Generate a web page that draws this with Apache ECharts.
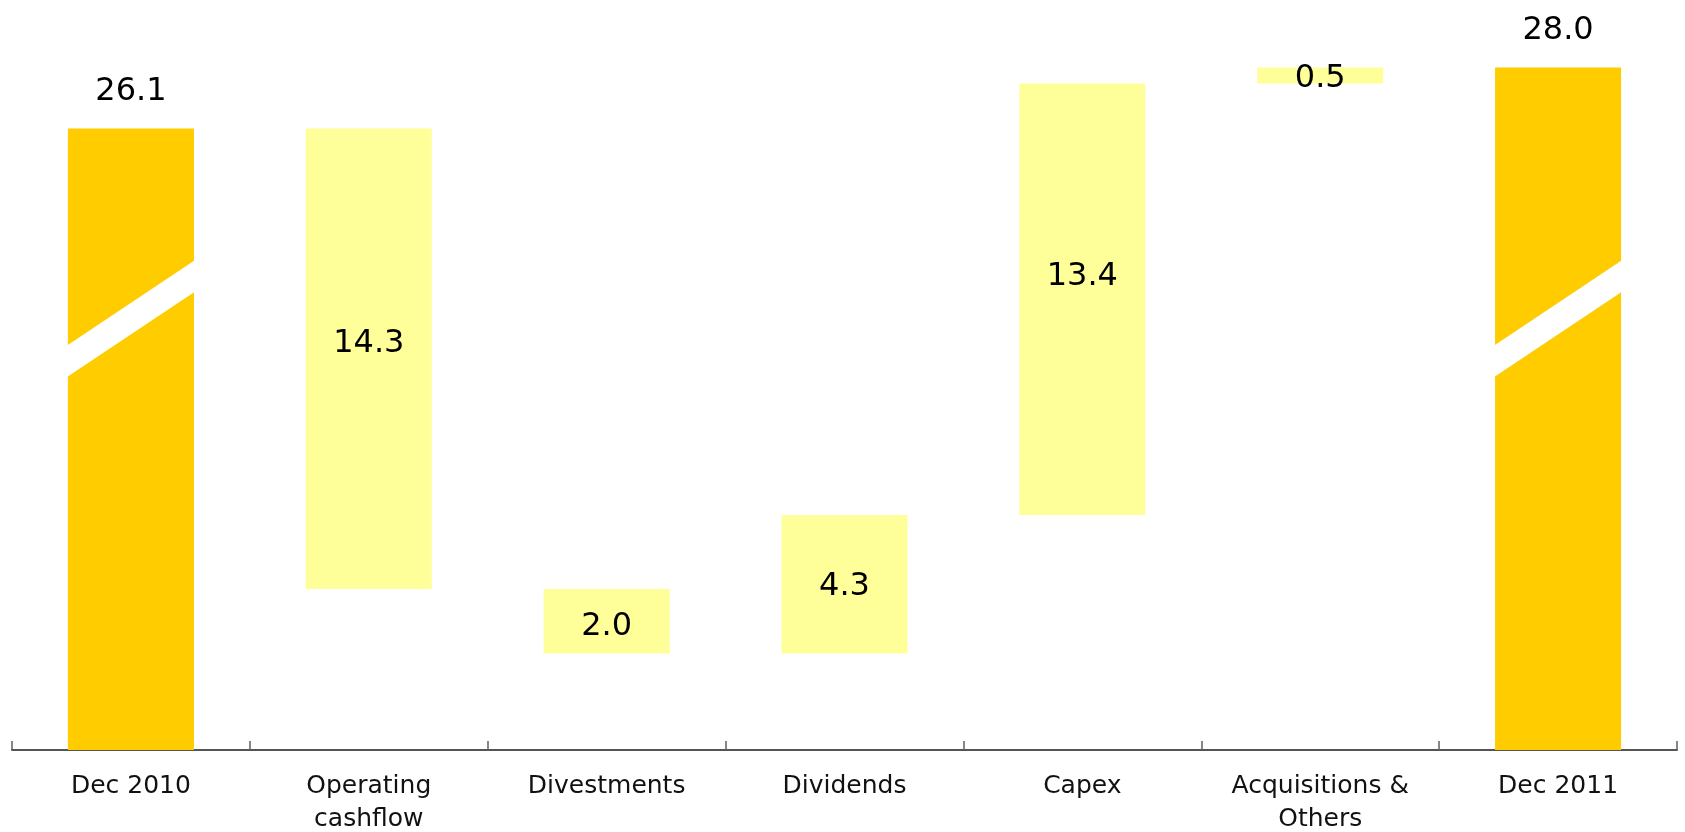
<!DOCTYPE html>
<html>
<head>
<meta charset="utf-8">
<title>Net debt bridge 2010–2011</title>
<script src="https://cdn.jsdelivr.net/npm/echarts@6/dist/echarts.min.js"></script>
<style>
  html, body { margin: 0; padding: 0; background: #ffffff; }
  #chart { width: 1685px; height: 832px; }
</style>
</head>
<body>
<div id="chart"></div>
<script>
// Net debt movement between year ends ($ billion)
const categories = ['Dec 2010', 'Operating\ncashflow', 'Divestments', 'Dividends', 'Capex', 'Acquisitions &\nOthers', 'Dec 2011'];
const openingTotal = 26.1;
const closingTotal = 28.0;
// signed movements from the opening to the closing total
const movements = [-14.3, -2.0, 4.3, 13.4, 0.5];
// value at which the axis-break stripe cuts across the two total bars
const breakLevel = 20.2;

// ---- styling ----
const TOTAL_COLOR = '#FFCC00';
const STEP_COLOR = '#FFFF99';
const FONT = '"DejaVu Sans", Verdana, sans-serif';
// small vertical nudges (px) for the labels inside the floating bars
const stepLabelShift = [-15, 5, 3, -23, 3];

// Build the waterfall: an invisible lift series plus the visible bars
const lift = [0];
const bars = [{
  value: openingTotal,
  itemStyle: { color: TOTAL_COLOR },
  label: { position: 'top', distance: 21 }
}];
let level = openingTotal;
movements.forEach((m, i) => {
  const next = level + m;
  lift.push(Math.min(level, next));
  bars.push({
    value: Math.abs(m),
    itemStyle: { color: STEP_COLOR },
    label: { position: 'inside', offset: [0, stepLabelShift[i]] }
  });
  level = next;
});
lift.push(0);
bars.push({
  value: closingTotal,
  itemStyle: { color: TOTAL_COLOR },
  label: { position: 'top', distance: 21 }
});

const chart = echarts.init(document.getElementById('chart'), null, { renderer: 'canvas' });

chart.setOption({
  animation: false,
  backgroundColor: '#ffffff',
  grid: {
    left: 12, right: 8, top: 3, bottom: 82,
    containLabel: false,
    outerBoundsMode: 'none'
  },
  xAxis: {
    type: 'category',
    data: categories,
    axisLine: { show: true, lineStyle: { color: '#555555', width: 2 } },
    axisTick: { show: true, inside: true, length: 9, lineStyle: { color: '#606060', width: 1.5 } },
    axisLabel: {
      interval: 0,
      margin: 20,
      fontFamily: FONT,
      fontSize: 25,
      lineHeight: 33,
      color: '#111111'
    },
    splitLine: { show: false }
  },
  yAxis: {
    type: 'value',
    min: 6.8,
    max: 30,
    show: false
  },
  series: [
    {
      name: 'lift',
      type: 'bar',
      stack: 'bridge',
      data: lift,
      barWidth: '53%',
      itemStyle: { color: 'transparent' },
      silent: true
    },
    {
      name: 'net debt',
      type: 'bar',
      stack: 'bridge',
      data: bars,
      barWidth: '53%',
      label: {
        show: true,
        fontFamily: FONT,
        fontSize: 32,
        color: '#000000',
        formatter: p => Number(p.value).toFixed(1)
      }
    },
    {
      // white diagonal stripe marking the broken axis on the total bars
      name: 'break',
      type: 'custom',
      z: 10,
      silent: true,
      data: [[0, breakLevel], [categories.length - 1, breakLevel]],
      renderItem: (params, api) => {
        const c = api.coord([api.value(0), api.value(1)]);
        const band = api.size([1, 0])[0];
        const hw = band * 0.3;
        const slope = 0.667;
        const t = 31.5;
        return {
          type: 'polygon',
          shape: {
            points: [
              [c[0] - hw, c[1] + slope * hw - t / 2],
              [c[0] + hw, c[1] - slope * hw - t / 2],
              [c[0] + hw, c[1] - slope * hw + t / 2],
              [c[0] - hw, c[1] + slope * hw + t / 2]
            ]
          },
          style: { fill: '#ffffff' }
        };
      }
    }
  ]
});
</script>
</body>
</html>
